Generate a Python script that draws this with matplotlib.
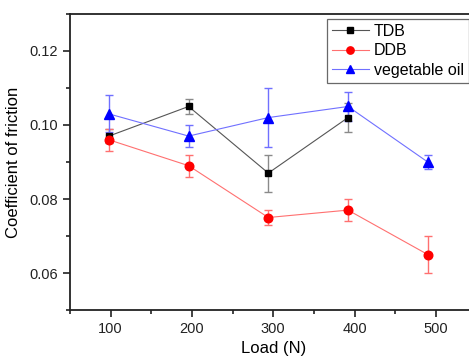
import numpy as np
import matplotlib
matplotlib.use("Agg")
import matplotlib.pyplot as plt
from matplotlib.ticker import MultipleLocator
from matplotlib.lines import Line2D

plt.rcParams['font.family'] = ['Liberation Sans', 'DejaVu Sans']

# loads (N)
load = [98, 196, 294, 392, 490]

# TDB has no point at 490 N
tdb = [0.097, 0.105, 0.087, 0.102]
tdb_err = [0.002, 0.002, 0.005, 0.004]

ddb = [0.096, 0.089, 0.075, 0.077, 0.065]
ddb_err = [0.003, 0.003, 0.002, 0.003, 0.005]

veg = [0.103, 0.097, 0.102, 0.105, 0.090]
veg_err = [0.005, 0.003, 0.008, 0.004, 0.002]

fig = plt.figure(figsize=(4.69, 3.58), dpi=100)
ax = fig.add_axes([0.149, 0.134, 0.867, 0.827])

styles = [
    ('TDB', '#555555', '#8a8a8a', 's', 'black', 5),
    ('DDB', '#ff7070', '#ff7070', 'o', 'red', 6.2),
    ('vegetable oil', '#7070ff', '#7070ff', '^', 'blue', 6.5),
]
series = [(load[:4], tdb, tdb_err), (load, ddb, ddb_err), (load, veg, veg_err)]

handles = []
for (name, lc, ec, mk, fc, ms), (xs, ys, es) in zip(styles, series):
    ax.errorbar(xs, ys, yerr=es, color=lc, lw=0.8, ecolor=ec, elinewidth=1,
                capsize=3, marker=mk, ms=ms, mfc=fc, mec=fc)
    handles.append(Line2D([], [], color=lc, lw=0.8, marker=mk, ms=ms * 0.85,
                          mfc=fc, mec=fc, label=name))

ax.set_xlim(50, 550)
ax.set_ylim(0.05, 0.13)
ax.xaxis.set_major_locator(MultipleLocator(100))
ax.xaxis.set_minor_locator(MultipleLocator(50))
ax.yaxis.set_major_locator(MultipleLocator(0.02))
ax.yaxis.set_minor_locator(MultipleLocator(0.01))
ax.yaxis.set_major_formatter(matplotlib.ticker.FormatStrFormatter('%.2f'))

for s in ax.spines.values():
    s.set_linewidth(1.3)
    s.set_color('#222222')
ax.tick_params(which='major', direction='out', length=5, width=1.2, labelsize=10.5, colors='#222222')
ax.tick_params(which='minor', direction='out', length=3, width=1.2, colors='#222222')

ax.set_xlabel('Load (N)', fontsize=12)
ax.set_ylabel('Coefficient of friction', fontsize=12, labelpad=6)

leg = ax.legend(handles=handles, loc='upper left', bbox_to_anchor=(327/469, 1 - 19/358),
                bbox_transform=fig.transFigure, fancybox=False, fontsize=11.5,
                handlelength=2.3, borderpad=0.3, labelspacing=0.28,
                handletextpad=0.35, borderaxespad=0)
leg.get_frame().set_edgecolor('#444444')
leg.get_frame().set_linewidth(0.9)

fig.savefig('out.png', dpi=100)
